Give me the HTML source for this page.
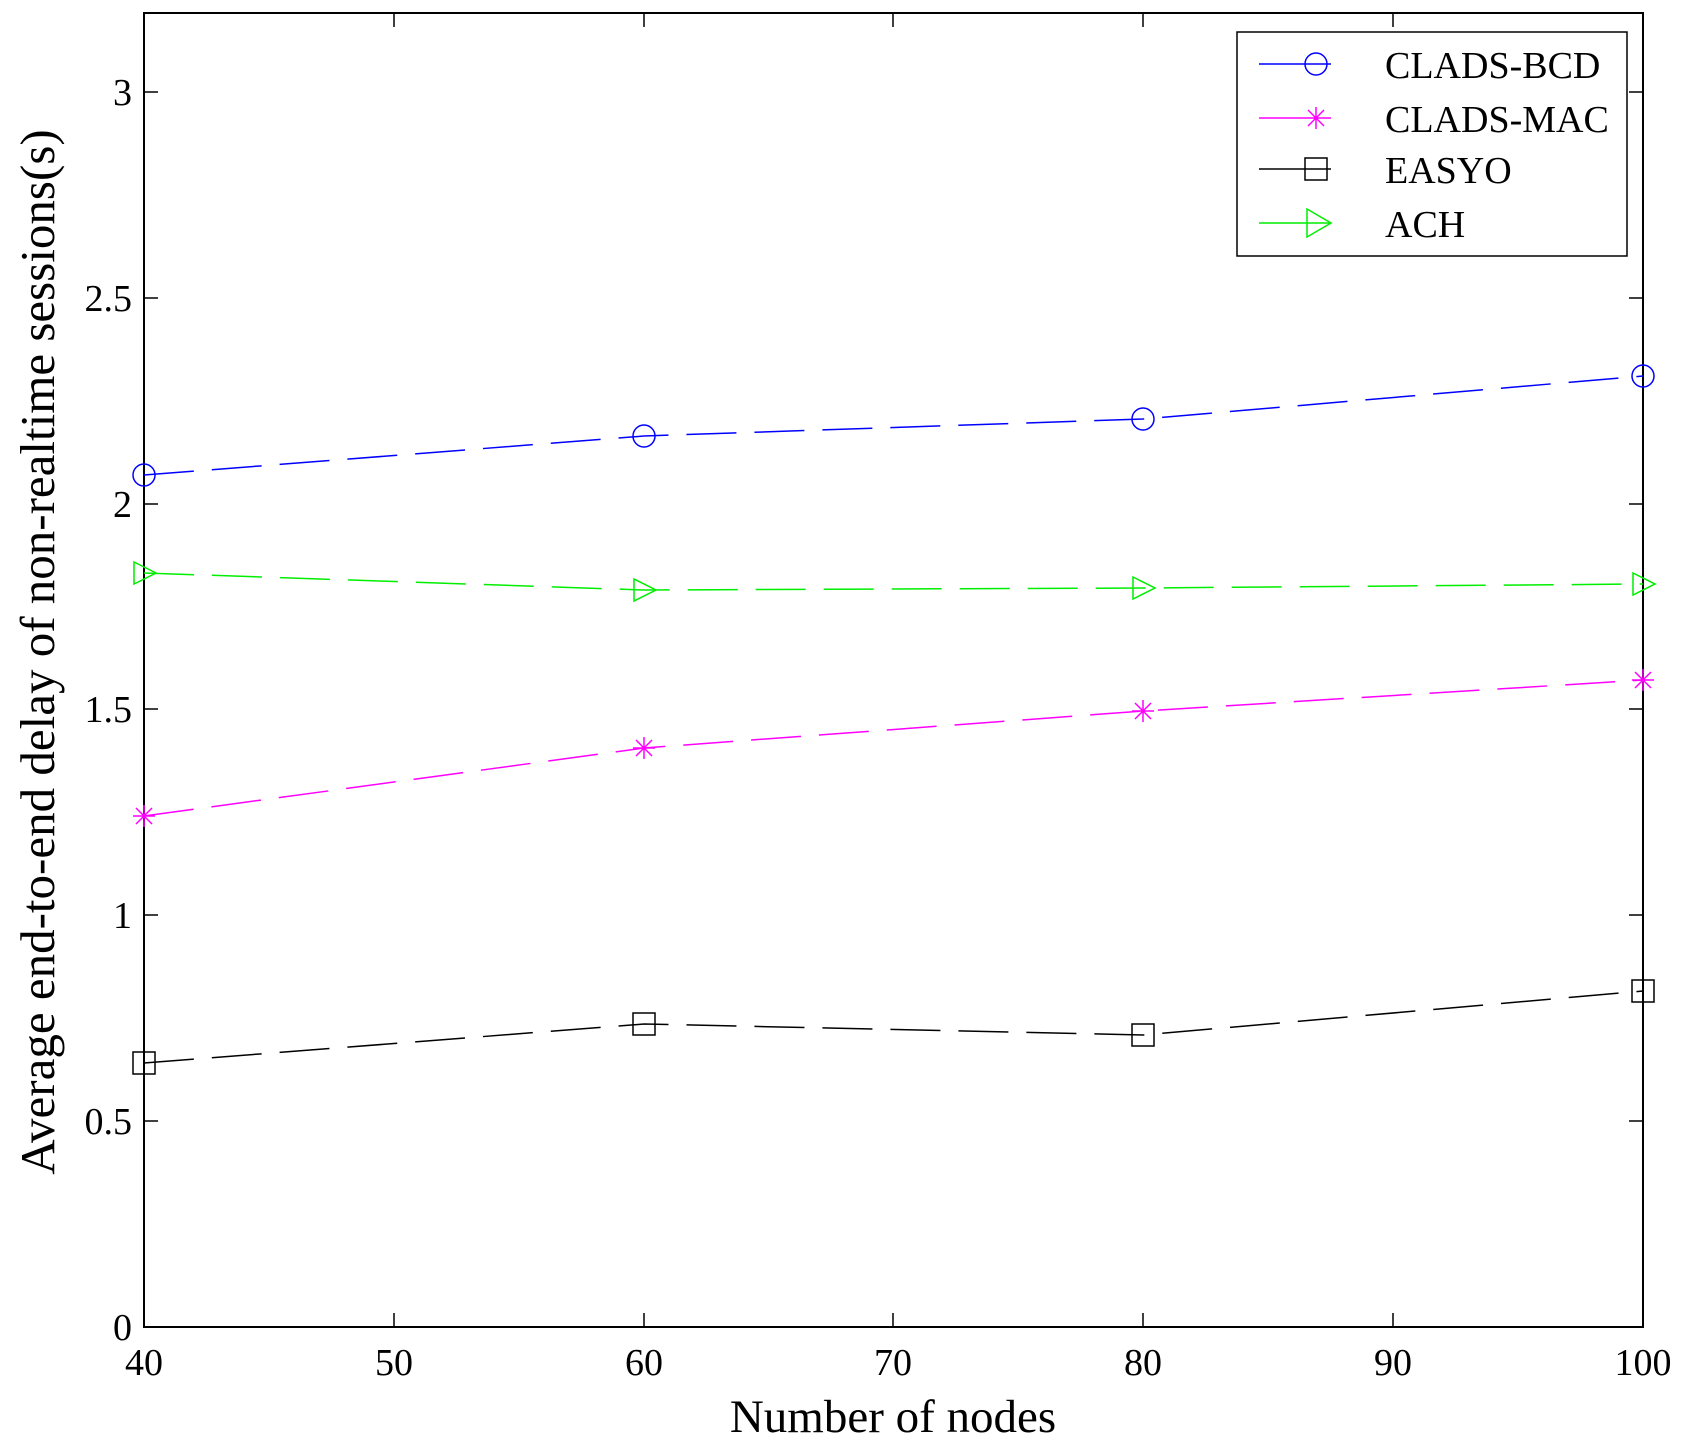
<!DOCTYPE html>
<html><head><style>body{margin:0;background:#fff}svg{display:block}text{font-family:"Liberation Serif",serif;fill:#000}</style></head>
<body>
<svg width="1685" height="1449" viewBox="0 0 1685 1449" xmlns="http://www.w3.org/2000/svg">
<rect width="1685" height="1449" fill="#fff"/>
<g stroke="#000" stroke-width="1.5" fill="none">
<rect x="144" y="13" width="1499" height="1314" stroke-width="2"/>
<path d="M144,1327v-14M394,1327v-14M644,1327v-14M893,1327v-14M1143,1327v-14M1393,1327v-14M1643,1327v-14
M144,13v14M394,13v14M644,13v14M893,13v14M1143,13v14M1393,13v14M1643,13v14"/>
<path d="M144,1327h14M144,1121h14M144,915h14M144,709h14M144,504h14M144,298h14M144,92h14
M1643,1327h-14M1643,1121h-14M1643,915h-14M1643,709h-14M1643,504h-14M1643,298h-14M1643,92h-14"/>
</g>
<g font-size="38" text-anchor="middle">
<text x="144" y="1375">40</text><text x="394" y="1375">50</text><text x="644" y="1375">60</text><text x="893" y="1375">70</text><text x="1143" y="1375">80</text><text x="1393" y="1375">90</text><text x="1643" y="1375">100</text>
</g>
<g font-size="38" text-anchor="end">
<text x="132" y="1340">0</text><text x="132" y="1134">0.5</text><text x="132" y="928">1</text><text x="132" y="722">1.5</text><text x="132" y="517">2</text><text x="132" y="311">2.5</text><text x="132" y="105">3</text>
</g>
<text x="893" y="1432" font-size="47" text-anchor="middle">Number of nodes</text>
<text transform="translate(54,652) rotate(-90)" font-size="49" text-anchor="middle">Average end-to-end delay of non-realtime sessions(s)</text>
<g fill="none" stroke-width="1.5" stroke-dasharray="50,18">
<polyline stroke="#0000ff" points="144,475 644,436 1143,419 1643,376"/>
<polyline stroke="#00ee00" points="144,573 644,590 1143,588 1643,584"/>
<polyline stroke="#ff00ff" points="144,816 644,748 1143,711 1643,680"/>
<polyline stroke="#000" points="144,1063 644,1024 1143,1035 1643,991"/>
</g>
<g fill="none" stroke-width="1.5">
<g stroke="#0000ff"><circle cx="144" cy="475" r="11"/><circle cx="644" cy="436" r="11"/><circle cx="1143" cy="419" r="11"/><circle cx="1643" cy="376" r="11"/></g>
<g stroke="#00ee00"><path d="M134,562l22,11l-22,11z M634,579l22,11l-22,11z M1133,577l22,11l-22,11z M1633,573l22,11l-22,11z"/></g>
<g stroke="#ff00ff"><path d="M144,805v22M133,816h22M136,808l16,16M152,808l-16,16 M644,737v22M633,748h22M636,740l16,16M652,740l-16,16 M1143,700v22M1132,711h22M1135,703l16,16M1151,703l-16,16 M1643,669v22M1632,680h22M1635,672l16,16M1651,672l-16,16"/></g>
<g stroke="#000"><rect x="133" y="1052" width="22" height="22"/><rect x="633" y="1013" width="22" height="22"/><rect x="1132" y="1024" width="22" height="22"/><rect x="1632" y="980" width="22" height="22"/></g>
</g>
<rect x="1237" y="32" width="390" height="224" fill="#fff" stroke="#000" stroke-width="1.5"/>
<g fill="none" stroke-width="1.5">
<path stroke="#0000ff" d="M1259,64h72"/><circle stroke="#0000ff" cx="1316" cy="64" r="11"/>
<path stroke="#ff00ff" d="M1259,118h72M1316,107v22M1305,118h22M1308,110l16,16M1324,110l-16,16"/>
<path stroke="#000" d="M1259,169h72"/><rect stroke="#000" x="1305" y="158" width="22" height="22"/>
<path stroke="#00ee00" d="M1259,223h72M1307,209l24,14l-24,14z"/>
</g>
<g font-size="38">
<text x="1385" y="78">CLADS-BCD</text>
<text x="1385" y="132">CLADS-MAC</text>
<text x="1385" y="183">EASYO</text>
<text x="1385" y="237">ACH</text>
</g>
</svg>
</body></html>
